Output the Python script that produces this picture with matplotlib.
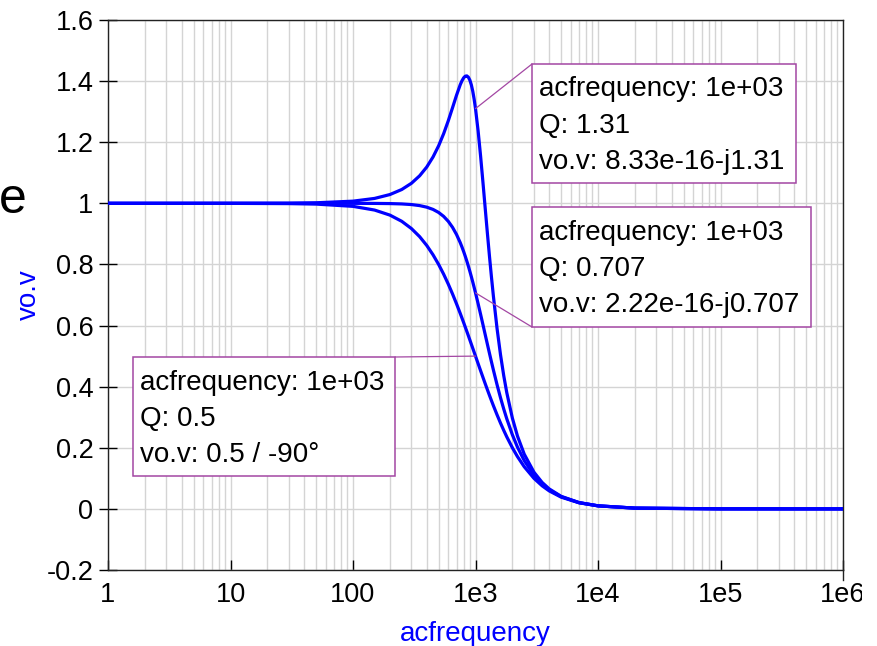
import numpy as np
import matplotlib.pyplot as plt
from matplotlib.patches import Rectangle

plt.rcParams['font.family'] = ['Liberation Sans', 'DejaVu Sans']

# frequency points (Hz) and |vo.v|
freq = [1, 10, 30, 50, 100, 150, 200, 250, 300, 350, 400, 450, 500, 550, 600,
        650, 700, 750, 775, 800, 825, 850, 875, 900, 925, 950, 975, 1000, 1050,
        1100, 1150, 1200, 1250, 1300, 1350, 1400, 1500, 1600, 1700, 1800, 2000,
        2200, 2500, 3000, 3500, 4000, 5000, 7000, 10000, 20000, 100000, 1000000]

vo_q050 = [1.0, 0.9999, 0.9991, 0.9975, 0.9901, 0.978, 0.9615, 0.9412, 0.9174,
           0.8909, 0.8621, 0.8316, 0.8, 0.7678, 0.7353, 0.703, 0.6711, 0.64,
           0.6248, 0.6098, 0.595, 0.5806, 0.5664, 0.5525, 0.5389, 0.5256,
           0.5127, 0.5, 0.4756, 0.4525, 0.4306, 0.4098, 0.3902, 0.3717, 0.3543,
           0.3378, 0.3077, 0.2809, 0.2571, 0.2358, 0.2, 0.1712, 0.1379, 0.1,
           0.0755, 0.0588, 0.0385, 0.02, 0.0099, 0.0025, 0.0001, 0.0]

vo_q0707 = [1.0, 1.0, 1.0, 1.0, 0.99995, 0.99975, 0.9992, 0.99805, 0.99598,
            0.99258, 0.98744, 0.98011, 0.97014, 0.95716, 0.94088, 0.92116,
            0.898, 0.87158, 0.85726, 0.84227, 0.82668, 0.81057, 0.79401,
            0.77706, 0.75983, 0.74237, 0.72477, 0.7071, 0.67183, 0.63704,
            0.60313, 0.5704, 0.53906, 0.50925, 0.48104, 0.45447, 0.40614,
            0.36385, 0.327, 0.29491, 0.24254, 0.20234, 0.15799, 0.11043,
            0.08136, 0.06238, 0.03997, 0.0204, 0.01, 0.0025, 0.0001, 0.0]

vo_q131 = [1.0, 1.0001, 1.00064, 1.0018, 1.00711, 1.01607, 1.02874, 1.04523,
           1.06568, 1.09019, 1.11884, 1.15162, 1.18831, 1.22832, 1.27063,
           1.31338, 1.35379, 1.38784, 1.40097, 1.41064, 1.41617, 1.41702,
           1.41269, 1.4029, 1.38751, 1.36665, 1.34064, 1.31, 1.23753, 1.15532,
           1.06926, 0.98403, 0.9028, 0.82735, 0.75842, 0.69611, 0.58991,
           0.50473, 0.43618, 0.38054, 0.29708, 0.2386, 0.17902, 0.12017,
           0.08648, 0.06533, 0.04115, 0.02071, 0.01007, 0.0025, 0.0001, 0.0]

xticks = [1, 10, 100, 1e3, 1e4, 1e5, 1e6]
xtick_labels = ['1', '10', '100', '1e3', '1e4', '1e5', '1e6']
yticks = [-0.2, 0, 0.2, 0.4, 0.6, 0.8, 1, 1.2, 1.4, 1.6]
ytick_labels = ['-0.2', '0', '0.2', '0.4', '0.6', '0.8', '1', '1.2', '1.4', '1.6']

# cursor readouts at 1 kHz
markers = [
    (1000, 1.31, ['acfrequency: 1e+03', 'Q: 1.31', 'vo.v: 8.33e-16-j1.31']),
    (1000, 0.707, ['acfrequency: 1e+03', 'Q: 0.707', 'vo.v: 2.22e-16-j0.707']),
    (1000, 0.5, ['acfrequency: 1e+03', 'Q: 0.5', 'vo.v: 0.5 / -90\u00b0']),
]

W, H = 877, 646
fig = plt.figure(figsize=(W / 100, H / 100), dpi=100)
ax = fig.add_axes([108 / W, 1 - 570 / H, (843 - 108) / W, (570 - 20) / H])

blue = '#0000ff'
purple = '#a347a3'

for ys in (vo_q050, vo_q0707, vo_q131):
    ax.plot(freq, ys, color=blue, lw=2.3, solid_capstyle='round',
            solid_joinstyle='round', zorder=3)

ax.set_xscale('log')
ax.set_xlim(1, 1e6)
ax.set_ylim(-0.2, 1.6)
ax.set_xticks(xticks)
ax.set_xticklabels(xtick_labels)
ax.set_yticks(yticks)
ax.set_yticklabels(ytick_labels)
ax.xaxis.set_minor_locator(plt.matplotlib.ticker.LogLocator(base=10, subs=np.arange(2, 10), numticks=20))
ax.xaxis.set_minor_formatter(plt.NullFormatter())

ax.grid(True, which='major', color='#d4d4d4', lw=1.0, zorder=0)
ax.grid(True, which='minor', axis='x', color='#d4d4d4', lw=1.0, zorder=0)
ax.set_axisbelow(True)

ax.tick_params(axis='x', which='major', direction='in', length=7, width=1, labelsize=19.5, pad=9)
ax.tick_params(axis='x', which='minor', length=0)
ax.tick_params(axis='y', which='major', direction='inout', length=13, width=1, labelsize=19.5, pad=4)
for s in ax.spines.values():
    s.set_color('#222222')
    s.set_linewidth(1.0)
# right edge line runs a little past the bottom axis
ax.plot([1, 1], [0, -0.018], transform=ax.transAxes, color='#222222', lw=1.0, clip_on=False)

ax.set_xlabel('acfrequency', color=blue, fontsize=20, labelpad=9)
ax.set_ylabel('vo.v', color=blue, fontsize=20, labelpad=3)

# stray clipped text at left edge
fig.text(-1 / W, 1 - 213 / H, 'e', fontsize=36, ha='left', va='baseline')

# readout boxes: (left, top, right, bottom) in image pixels, leader corner
boxes = [
    ((532, 64, 796, 183), (532, 64)),
    ((532, 207, 811, 327), (532, 327)),
    ((133, 357, 395, 476), (395, 357)),
]

for (fx, fy, lines), ((x0, y0, x1, y1), corner) in zip(markers, boxes):
    ax.annotate('', xy=(fx, fy), xycoords='data',
                xytext=(corner[0], H - corner[1]), textcoords='figure pixels',
                arrowprops=dict(arrowstyle='-', color=purple, lw=0.9,
                                shrinkA=0, shrinkB=0),
                annotation_clip=False, zorder=4)
    fig.add_artist(Rectangle((x0 / W, 1 - y1 / H), (x1 - x0) / W, (y1 - y0) / H,
                             transform=fig.transFigure, facecolor='white',
                             edgecolor=purple, lw=1.1, zorder=5))
    for i, line in enumerate(lines):
        fig.text((x0 + 7) / W, 1 - (y0 + 32.5 + 36.5 * i) / H, line,
                 fontsize=20, ha='left', va='baseline', zorder=6)

# the original capture is cut just right of the last tick label
fig.add_artist(Rectangle((862 / W, 0), (W - 862) / W, 1 - 575 / H,
                         transform=fig.transFigure, facecolor='white',
                         edgecolor='none', zorder=10))

fig.savefig('out.png', dpi=100)
